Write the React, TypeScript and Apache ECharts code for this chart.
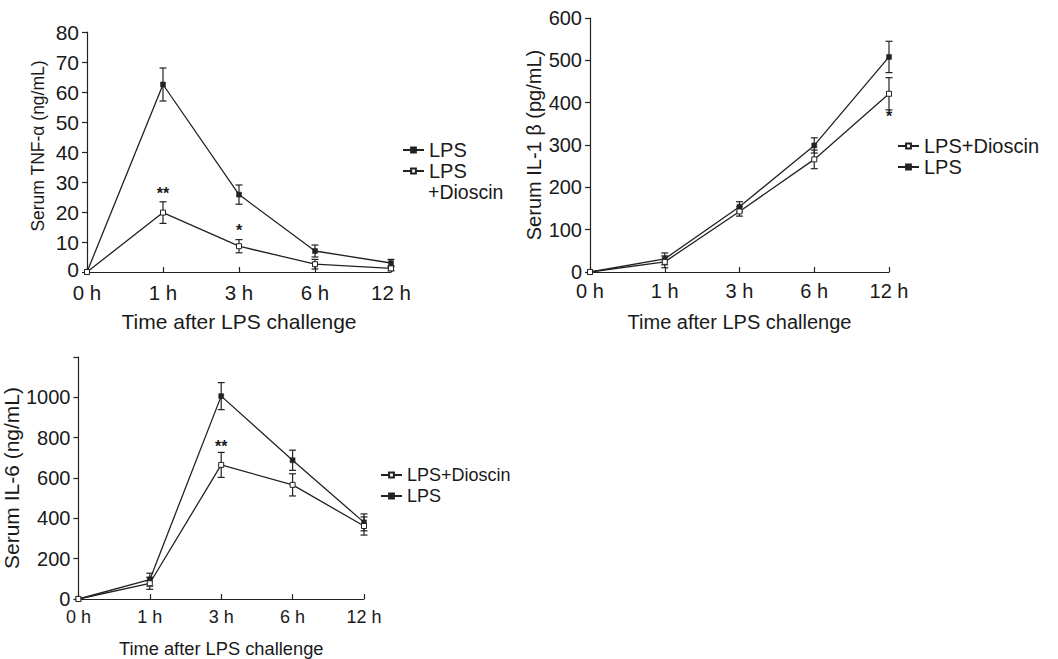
import React, { useEffect, useRef } from "react";
import * as echarts from "echarts";

const timeLabels = ["0 h", "1 h", "3 h", "6 h", "12 h"];

// TNF-α (ng/mL)
const tnfLps = [0, 62.5, 25.8, 7, 3];
const tnfLpsErr = [0, 5.5, 3.2, 2, 1.2];
const tnfDio = [0, 19.8, 8.6, 2.6, 1.2];
const tnfDioErr = [0, 3.6, 2.2, 1.6, 0.8];
const tnfStars: [number, number, string][] = [
  [1, 26.3, "**"],
  [2, 14, "*"],
];

// IL-1β (pg/mL)
const il1Lps = [0, 31, 154, 299, 508];
const il1LpsErr = [0, 14, 12, 18, 37];
const il1Dio = [0, 24, 143, 266, 421];
const il1DioErr = [0, 14, 11, 22, 38];
const il1Stars: [number, number, string][] = [[4, 368, "*"]];

// IL-6 (ng/mL)
const il6Lps = [0, 96, 1006, 688, 380];
const il6LpsErr = [0, 32, 67, 50, 42];
const il6Dio = [0, 78, 665, 566, 362];
const il6DioErr = [0, 30, 62, 55, 45];
const il6Stars: [number, number, string][] = [[2, 755, "**"]];

const FONT = "'Liberation Sans', Arial, Helvetica, sans-serif";
const INK = "#1a1a1a";
const LINE = "#222";

function errData(vals: number[], errs: number[]) {
  return vals.map((v, i) => [i, v - errs[i], v + errs[i]]);
}

function errorSeries(vals: number[], errs: number[], gi: number) {
  return {
    type: "custom",
    xAxisIndex: gi,
    yAxisIndex: gi,
    silent: true,
    z: 1,
    encode: { x: 0, y: [1, 2] },
    data: errData(vals, errs),
    renderItem: (params: any, api: any) => {
      const x = api.value(0);
      const lo = api.value(1);
      const hi = api.value(2);
      if (hi - lo <= 0) return { type: "group", children: [] };
      const pLo = api.coord([x, lo]);
      const pHi = api.coord([x, hi]);
      const w = 3.5;
      const style = { stroke: LINE, lineWidth: 1.2 };
      return {
        type: "group",
        children: [
          { type: "line", shape: { x1: pLo[0], y1: pLo[1], x2: pHi[0], y2: pHi[1] }, style },
          { type: "line", shape: { x1: pLo[0] - w, y1: pLo[1], x2: pLo[0] + w, y2: pLo[1] }, style },
          { type: "line", shape: { x1: pHi[0] - w, y1: pHi[1], x2: pHi[0] + w, y2: pHi[1] }, style },
        ],
      };
    },
  };
}

function starSeries(stars: [number, number, string][], gi: number) {
  return {
    type: "custom",
    xAxisIndex: gi,
    yAxisIndex: gi,
    silent: true,
    z: 5,
    data: stars,
    renderItem: (params: any, api: any) => {
      const p = api.coord([api.value(0), api.value(1)]);
      const s = stars[params.dataIndex][2];
      return {
        type: "text",
        x: p[0],
        y: p[1],
        style: {
          text: s,
          fontSize: 16,
          fontWeight: "bold",
          fontFamily: FONT,
          fill: INK,
          align: "center",
          verticalAlign: "middle",
        },
      };
    },
  };
}

function lineSeries(name: string, vals: number[], gi: number, hollow: boolean) {
  return {
    type: "line",
    name,
    xAxisIndex: gi,
    yAxisIndex: gi,
    data: vals,
    symbol: "rect",
    symbolSize: 5,
    showSymbol: true,
    z: 3,
    lineStyle: { color: LINE, width: 1.3 },
    itemStyle: hollow
      ? { color: "#fff", borderColor: LINE, borderWidth: 1 }
      : { color: LINE, borderColor: LINE, borderWidth: 0.5 },
  };
}

function xAxis(gi: number, labelSize: number, nameSize: number, margin: number, nameGap: number) {
  return {
    type: "category",
    gridIndex: gi,
    data: timeLabels,
    boundaryGap: false,
    name: "Time after LPS challenge",
    nameLocation: "middle",
    nameGap,
    nameTextStyle: { fontSize: nameSize, color: INK, fontFamily: FONT },
    axisLine: { lineStyle: { color: LINE, width: 1.2 } },
    axisTick: { inside: true, length: 5, alignWithLabel: true, lineStyle: { color: LINE, width: 1.2 } },
    axisLabel: { fontSize: labelSize, color: INK, fontFamily: FONT, margin, interval: 0 },
    splitLine: { show: false },
  };
}

function yAxis(
  gi: number,
  name: string,
  max: number,
  interval: number,
  gap: number,
  labelSize: number,
  nameSize: number,
  namePad: number[],
  hideTop = false,
  liftZero = false
) {
  return {
    type: "value",
    gridIndex: gi,
    min: 0,
    max,
    interval,
    name,
    nameLocation: "middle",
    nameGap: gap,
    nameTextStyle: { fontSize: nameSize, color: INK, fontFamily: FONT, padding: namePad },
    axisLine: { show: true, lineStyle: { color: LINE, width: 1.2 } },
    axisTick: { show: true, inside: false, length: 5, lineStyle: { color: LINE, width: 1.2 } },
    axisLabel: {
      fontSize: labelSize,
      color: INK,
      fontFamily: FONT,
      margin: 8,
      formatter: (v: number) => {
        if (hideTop && v === max) return "";
        if (liftZero && v === 0) return "{z|0}";
        return String(v);
      },
      rich: {
        z: { fontSize: labelSize, color: INK, fontFamily: FONT, padding: [0, 0, 5, 0] },
      },
    },
    splitLine: { show: false },
  };
}

function legendText(size: number, lh: number) {
  return { fontSize: size, color: INK, fontFamily: FONT, lineHeight: lh };
}

export default function App() {
  const ref = useRef<HTMLDivElement>(null);
  useEffect(() => {
    if (!ref.current) return;
    const chart = echarts.init(ref.current, undefined, { renderer: "svg" });
    chart.setOption({
      animation: false,
      backgroundColor: "#fff",
      textStyle: { fontFamily: FONT },
      grid: [
        { left: 87, top: 32, width: 304, height: 240 },
        { left: 590, top: 18, width: 299, height: 254 },
        { left: 76, top: 357, width: 288, height: 242 },
      ],
      xAxis: [xAxis(0, 20.5, 21, 10, 39), xAxis(1, 20, 20, 9, 40), xAxis(2, 18, 18.3, 9, 40)],
      yAxis: [
        yAxis(0, "Serum TNF-α (ng/mL)", 80, 10, 40, 21, 17.5, [0, 0, 0, 12], false, true),
        yAxis(1, "Serum IL-1 β (pg/mL)", 600, 100, 46, 20, 20, [0, 0, 0, 0]),
        yAxis(2, "Serum IL-6 (ng/mL)", 1200, 200, 48, 20, 21, [0, 0, 0, 0], true),
      ],
      legend: [
        {
          data: ["LPS"],
          orient: "vertical",
          left: 402,
          top: 140,
          padding: 0,
          itemWidth: 21,
          itemHeight: 6,
          textStyle: legendText(20, 18),
          selectedMode: false,
        },
        {
          data: ["LPS+Dioscin"],
          orient: "vertical",
          left: 402,
          top: 161,
          padding: 0,
          itemWidth: 21,
          itemHeight: 6,
          formatter: () => "LPS",
          textStyle: legendText(20, 18),
          selectedMode: false,
        },
        {
          data: ["LPS+Dioscin", "LPS"],
          orient: "vertical",
          left: 897,
          top: 136,
          padding: 0,
          itemGap: 1,
          itemWidth: 21,
          itemHeight: 6,
          textStyle: legendText(20, 19),
          selectedMode: false,
        },
        {
          data: ["LPS+Dioscin", "LPS"],
          orient: "vertical",
          left: 380,
          top: 466,
          padding: 0,
          itemGap: 3,
          itemWidth: 21,
          itemHeight: 6,
          textStyle: legendText(18, 18),
          selectedMode: false,
        },
      ],
      graphic: [
        {
          type: "text",
          left: 428,
          top: 182,
          style: {
            text: "+Dioscin",
            fontSize: 19.5,
            lineHeight: 18,
            fontFamily: FONT,
            fill: INK,
          },
        },
      ],
      series: [
        errorSeries(tnfLps, tnfLpsErr, 0),
        errorSeries(tnfDio, tnfDioErr, 0),
        lineSeries("LPS", tnfLps, 0, false),
        lineSeries("LPS+Dioscin", tnfDio, 0, true),
        starSeries(tnfStars, 0),

        errorSeries(il1Lps, il1LpsErr, 1),
        errorSeries(il1Dio, il1DioErr, 1),
        lineSeries("LPS", il1Lps, 1, false),
        lineSeries("LPS+Dioscin", il1Dio, 1, true),
        starSeries(il1Stars, 1),

        errorSeries(il6Lps, il6LpsErr, 2),
        errorSeries(il6Dio, il6DioErr, 2),
        lineSeries("LPS", il6Lps, 2, false),
        lineSeries("LPS+Dioscin", il6Dio, 2, true),
        starSeries(il6Stars, 2),
      ],
    });
    return () => chart.dispose();
  }, []);
  return (
    <div
      ref={ref}
      style={{ position: "fixed", left: 0, top: 0, width: 1058, height: 659, background: "#fff" }}
    />
  );
}
